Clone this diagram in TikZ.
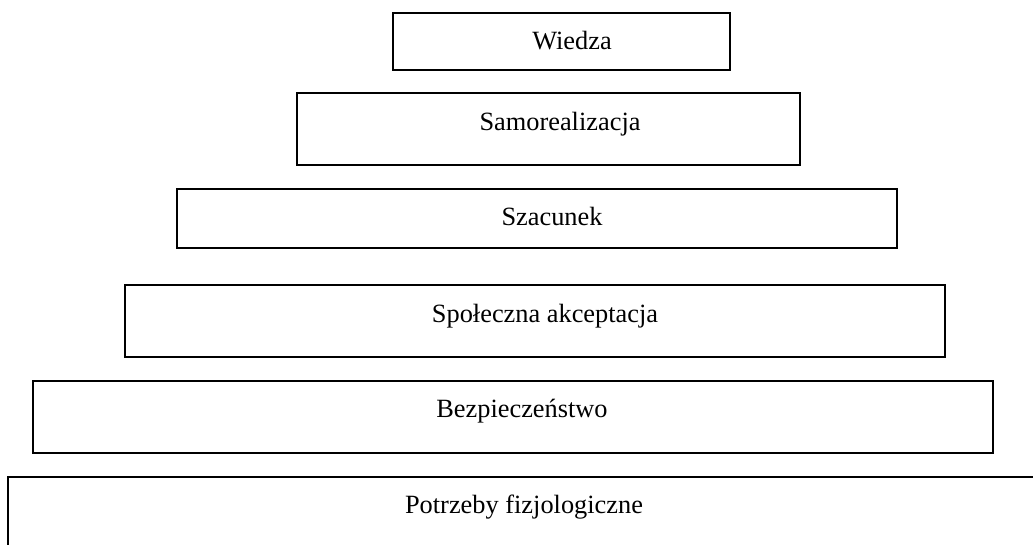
\documentclass[tikz,border=0pt]{standalone}
\usepackage{fontspec}
\setmainfont{Liberation Serif}

\tikzset{
  level/.style={draw,line width=0.9pt},
  label/.style={anchor=base,font=\fontsize{15}{18}\selectfont}
}

\begin{document}
\begin{tikzpicture}[x=0.02cm,y=-0.02cm]
  \clip (0,0) rectangle (1033,544);
  \coordinate (w1) at (393,13);
  \coordinate (w2) at (730,70);
  \coordinate (s1) at (297,93);
  \coordinate (s2) at (800,165);
  \coordinate (c1) at (177,189);
  \coordinate (c2) at (897,248);
  \coordinate (a1) at (125,285);
  \coordinate (a2) at (945,357);
  \coordinate (b1) at (33,381);
  \coordinate (b2) at (993,453);
  \coordinate (p1) at (8,477);
  \coordinate (p2) at (1045,560);
  \draw[level]
    (w1)
    rectangle
    (w2);
  \draw[level]
    (s1)
    rectangle
    (s2);
  \draw[level]
    (c1)
    rectangle
    (c2);
  \draw[level]
    (a1)
    rectangle
    (a2);
  \draw[level]
    (b1)
    rectangle
    (b2);
  \draw[level]
    (p1)
    rectangle
    (p2);
  \node[label] (wiedza) at (572,50) {Wiedza};
  \node[label] (samo) at (560,130) {Samorealizacja};
  \node[label] (szacunek) at (552,225) {Szacunek};
  \node[label] (akcept) at (545,322) {Społeczna akceptacja};
  \node[label] (bezp) at (522,417) {Bezpieczeństwo};
  \node[label] (fizjo) at (524,513) {Potrzeby fizjologiczne};
\end{tikzpicture}
\end{document}
